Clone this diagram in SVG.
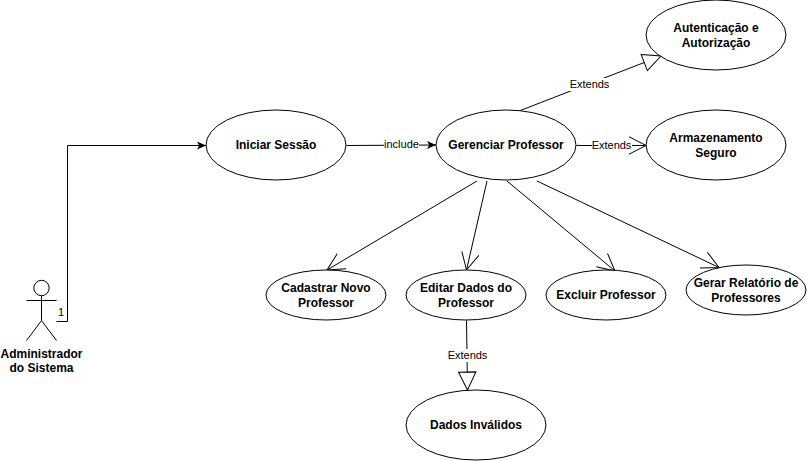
<svg xmlns="http://www.w3.org/2000/svg" width="807" height="461" viewBox="0 0 807 461">
<style>
text{font-family:"Liberation Sans",Arial,sans-serif;text-anchor:middle}
.n{font-size:12px;font-weight:bold;fill:#000}
.l{font-size:11px;fill:#000}
.s{fill:#fff;stroke:#000;stroke-width:1}
.c{fill:none;stroke:#000;stroke-width:1}
.bg{fill:#fff;stroke:none}
</style>
<defs>
<marker id="filled" markerUnits="userSpaceOnUse" markerWidth="12" markerHeight="10" refX="9" refY="4.500" orient="auto"><path d="M0 0.500L9 4.500L0 8.500L2.200 4.500Z" fill="#000"/></marker>
<marker id="open" markerUnits="userSpaceOnUse" markerWidth="20" markerHeight="20" refX="18" refY="10" orient="auto"><path d="M1 1.300L18 10L1 18.700" fill="none" stroke="#000" stroke-width="1"/></marker>
<marker id="tri" markerUnits="userSpaceOnUse" markerWidth="21" markerHeight="20" refX="19" refY="10" orient="auto"><path d="M1 1.300L19 10L1 18.700Z" fill="#fff" stroke="#000" stroke-width="1"/></marker>
</defs>
<rect width="807" height="461" fill="#fff"/>
<g id="connectors">
<path class="c" d="M56.500 321.500H67.500V145.500H206" marker-end="url(#filled)"/>
<path class="c" d="M346.500 145.500L436 145" marker-end="url(#filled)"/>
<path class="c" d="M519 111L661 56" marker-end="url(#tri)"/>
<path class="c" d="M576.500 145.500H646" marker-end="url(#open)"/>
<path class="c" d="M477 181L327 270" marker-end="url(#open)"/>
<path class="c" d="M487 181L466.500 270" marker-end="url(#open)"/>
<path class="c" d="M507 181L615 271" marker-end="url(#open)"/>
<path class="c" d="M537 181L719 267.500" marker-end="url(#open)"/>
<path class="c" d="M466.500 320.500L467.500 390" marker-end="url(#tri)"/>
<rect class="bg" x="384" y="138" width="35" height="13"/><text class="l" x="401.500" y="148">include</text>
<rect class="bg" x="570" y="78" width="40" height="13"/><text class="l" x="589.500" y="88">Extends</text>
<rect class="bg" x="592" y="139" width="40" height="13"/><text class="l" x="611.500" y="149">Extends</text>
<rect class="bg" x="448" y="349" width="40" height="13"/><text class="l" x="467.500" y="359">Extends</text>
<text class="l" x="61" y="316">1</text>
</g>
<g id="actor" class="c">
<circle cx="41.500" cy="288" r="7.700" fill="#fff"/>
<path d="M41.500 295.700V320.500M26.500 300.500H56.500M26.500 340.500L41.500 320.500L56.500 340.500"/>
</g>
<g id="actor-label"><text class="n" x="41.500" y="358">Administrador</text><text class="n" x="41.500" y="372">do Sistema</text></g>
<g id="iniciar"><ellipse class="s" cx="276" cy="145" rx="70" ry="35"/><text class="n" x="276" y="149">Iniciar Sessão</text></g>
<g id="gerenciar"><ellipse class="s" cx="506" cy="145" rx="70" ry="35"/><text class="n" x="506" y="149">Gerenciar Professor</text></g>
<g id="autenticacao"><ellipse class="s" cx="716" cy="35" rx="70" ry="35"/><text class="n" x="716" y="32">Autenticação e</text><text class="n" x="716" y="47">Autorização</text></g>
<g id="armazenamento"><ellipse class="s" cx="716" cy="145" rx="70" ry="35"/><text class="n" x="716" y="142">Armazenamento</text><text class="n" x="716" y="157">Seguro</text></g>
<g id="cadastrar"><ellipse class="s" cx="326" cy="295" rx="60" ry="25"/><text class="n" x="326" y="292">Cadastrar Novo</text><text class="n" x="326" y="307">Professor</text></g>
<g id="editar"><ellipse class="s" cx="466" cy="295" rx="60" ry="25"/><text class="n" x="466" y="292">Editar Dados do</text><text class="n" x="466" y="307">Professor</text></g>
<g id="excluir"><ellipse class="s" cx="606" cy="295" rx="60" ry="25"/><text class="n" x="606" y="299">Excluir Professor</text></g>
<g id="gerar"><ellipse class="s" cx="746" cy="290" rx="60" ry="25"/><text class="n" x="746" y="287">Gerar Relatório de</text><text class="n" x="746" y="302">Professores</text></g>
<g id="invalidos"><ellipse class="s" cx="476" cy="425" rx="70" ry="35"/><text class="n" x="476" y="429">Dados Inválidos</text></g>
</svg>
